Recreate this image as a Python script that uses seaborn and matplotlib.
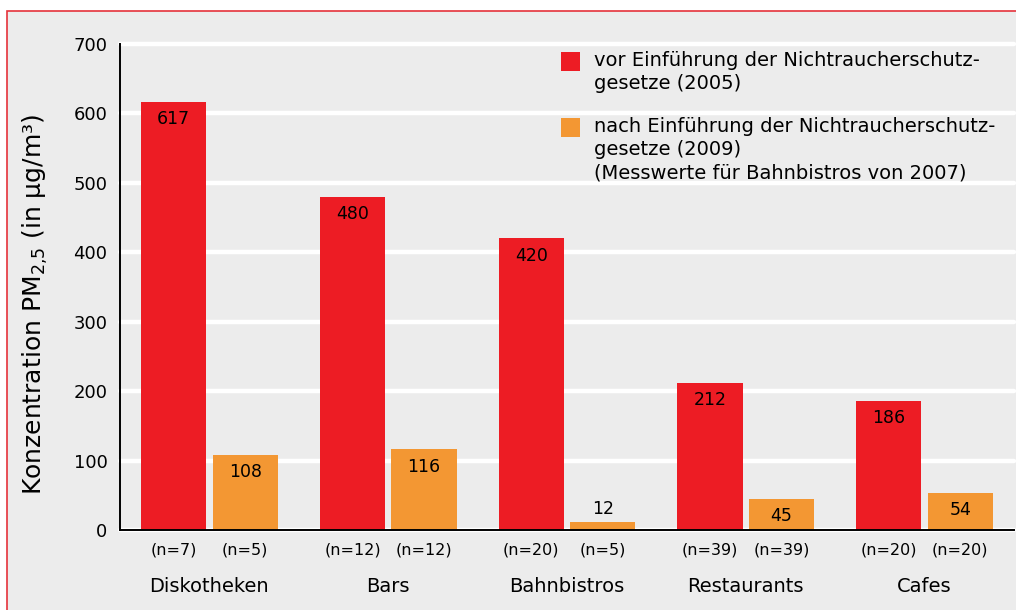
import matplotlib
matplotlib.use("Agg")
import matplotlib.pyplot as plt
import matplotlib.transforms as mtransforms
from matplotlib.patches import Rectangle
import seaborn as sns
import pandas as pd

# ---------------- data ----------------
categories = ["Diskotheken", "Bars", "Bahnbistros", "Restaurants", "Cafes"]
values_before = [617, 480, 420, 212, 186]
values_after = [108, 116, 12, 45, 54]
n_before = ["(n=7)", "(n=12)", "(n=20)", "(n=39)", "(n=20)"]
n_after = ["(n=5)", "(n=12)", "(n=5)", "(n=39)", "(n=20)"]
series_labels = [
    "vor Einführung der Nichtraucherschutz-\ngesetze (2005)",
    "nach Einführung der Nichtraucherschutz-\ngesetze (2009)\n(Messwerte für Bahnbistros von 2007)",
]
y_ticks = [0, 100, 200, 300, 400, 500, 600, 700]
y_label = "Konzentration PM$_{2{,}5}$ (in µg/m³)"

colors = ["#ED1C24", "#F39733"]
bg = "#ECECEC"

# ---------------- style ----------------
sns.set_style("white")
plt.rcParams["font.family"] = ["DejaVu Sans"]
plt.rcParams["mathtext.fontset"] = "dejavusans"
plt.rcParams["text.color"] = "black"
plt.rcParams["axes.labelcolor"] = "black"
plt.rcParams["xtick.color"] = "black"
plt.rcParams["ytick.color"] = "black"

df = pd.DataFrame({
    "Kategorie": categories * 2,
    "Zeitraum": [series_labels[0]] * len(categories) + [series_labels[1]] * len(categories),
    "Wert": values_before + values_after,
})

W, H = 1016, 610
fig = plt.figure(figsize=(W / 100, H / 100), dpi=100, facecolor="white")
fig.add_artist(Rectangle((7 / W, -0.1), 1.2, 1 - 11 / H + 0.1,
                         transform=fig.transFigure, facecolor=bg,
                         edgecolor="#E5323B", linewidth=1.2, zorder=0))

ax = fig.add_axes([120 / W, 80 / H, 894 / W, 486 / H])
ax.set_facecolor("none")

sns.barplot(data=df, x="Kategorie", y="Wert", hue="Zeitraum",
            palette=colors, width=0.8, gap=0.09, saturation=1,
            errorbar=None, legend=False, ax=ax, zorder=3, linewidth=0)

ax.set_xlim(-0.5, len(categories) - 0.5)
ax.set_ylim(0, 700)
ax.set_yticks(y_ticks)
ax.set_axisbelow(True)
ax.yaxis.grid(True, color="white", linewidth=3.2)
for gl in ax.get_ygridlines():
    gl.set_clip_on(False)
ax.xaxis.grid(False)

for side in ["top", "right"]:
    ax.spines[side].set_visible(False)
for side in ["left", "bottom"]:
    ax.spines[side].set_color("black")
    ax.spines[side].set_linewidth(1.4)
    ax.spines[side].set_zorder(5)

ax.tick_params(axis="y", length=5, width=1.3, direction="out", labelsize=13,
               pad=4, colors="black")

# x ticks: n labels at bar centres, separators as minor ticks
centers, nlabels = [], []
for cont, labs in zip(ax.containers, [n_before, n_after]):
    for bar, lab in zip(cont, labs):
        centers.append(bar.get_x() + bar.get_width() / 2)
        nlabels.append(lab)
order = sorted(range(len(centers)), key=lambda i: centers[i])
ax.set_xticks([centers[i] for i in order], [nlabels[i] for i in order])
ax.set_xticks([i - 0.5 for i in range(len(categories))], minor=True)
ax.tick_params(axis="x", which="major", length=0, pad=9, labelsize=11.5,
               colors="black")
ax.tick_params(axis="x", which="minor", length=5, width=1.3, direction="out",
               colors="black")
ax.set_xlabel("")

trans = mtransforms.blended_transform_factory(ax.transData, ax.transAxes)
for i, cat in enumerate(categories):
    ax.text(i, -56 / 486, cat, transform=trans, ha="center", va="center",
            fontsize=14, color="black")

# value labels
for cont in ax.containers:
    for bar, val in zip(cont, cont.datavalues):
        off = 9 if val < 30 else -12.5
        ax.annotate(f"{val:.0f}", (bar.get_x() + bar.get_width() / 2, bar.get_height()),
                    xytext=(0, off), textcoords="offset points",
                    ha="center", va="center", fontsize=12.5, zorder=6,
                    color="black")

ax.set_ylabel(y_label, fontsize=18, color="black")
ax.yaxis.set_label_coords(-70 / 894, 0.465)

# legend (manual, handles at first text line)
leg_tops = [52, 118]
for col, lab, top in zip(colors, series_labels, leg_tops):
    fig.add_artist(Rectangle((561 / W, 1 - (top + 19) / H), 19 / W, 19 / H,
                             transform=fig.transFigure, facecolor=col,
                             edgecolor="none", zorder=4))
    fig.text(594 / W, 1 - (top - 1) / H, lab, ha="left", va="top",
             fontsize=14, linespacing=1.29, color="black")

fig.savefig("out.png", dpi=100, facecolor="white")
